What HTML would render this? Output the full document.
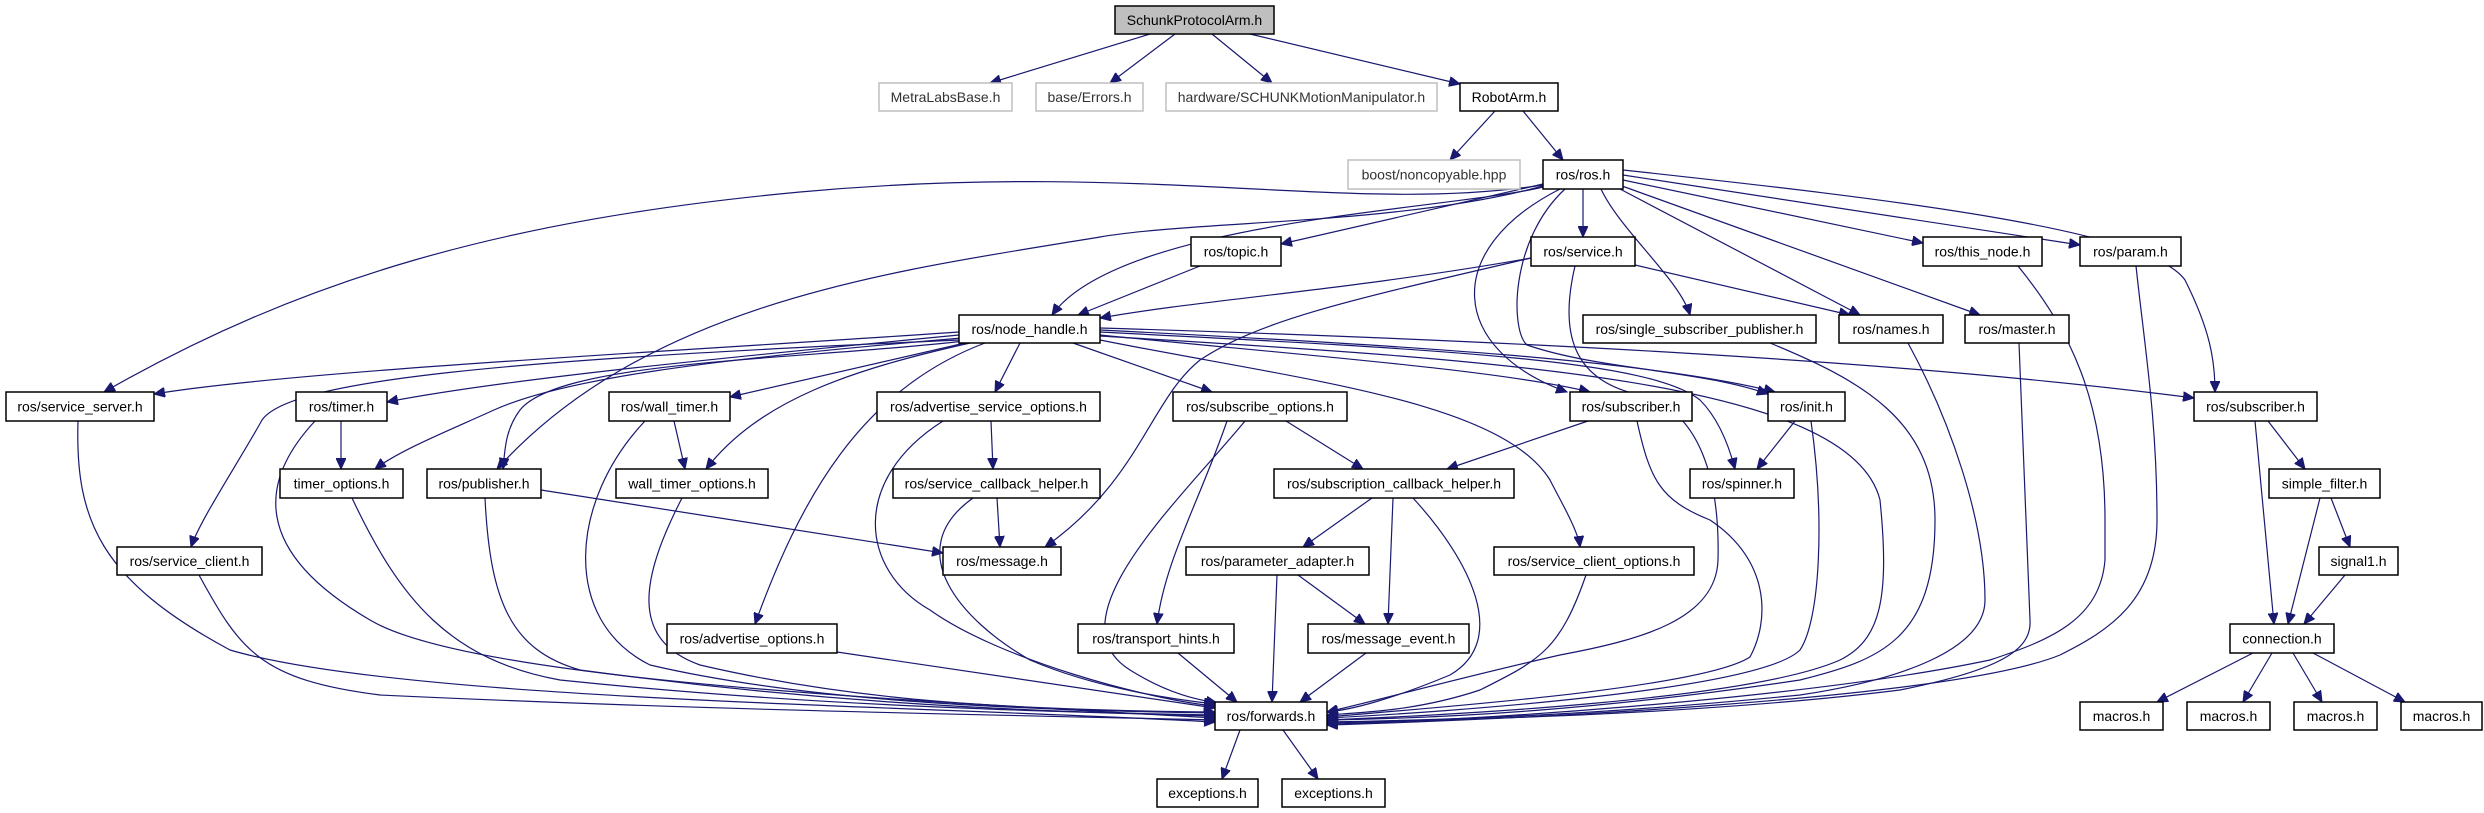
<!DOCTYPE html>
<html><head><meta charset="utf-8"><style>
html,body{margin:0;padding:0;background:#fff}
svg{display:block}
text{font-family:"Liberation Sans",sans-serif;font-size:14px;text-anchor:middle;dominant-baseline:central;fill:#000}
.n{fill:#fff;stroke:#000;stroke-width:1.5}
.g{fill:#fff;stroke:#bfbfbf;stroke-width:1.5}
path{fill:none;stroke:#191970;stroke-width:1.2;marker-end:url(#a)}
</style></head><body>
<svg width="2484" height="813" viewBox="0 0 2484 813" xmlns="http://www.w3.org/2000/svg">
<defs><marker id="a" markerUnits="userSpaceOnUse" markerWidth="12" markerHeight="10" refX="11" refY="5" orient="auto"><path d="M0,0 L11,5 L0,10 z" style="fill:#191970;stroke:#191970;stroke-width:1;marker-end:none"/></marker></defs>

<!-- edges -->
<path d="M1150,34 L990,83"/>
<path d="M1175,34 L1110,83"/>
<path d="M1212,34 L1272,83"/>
<path d="M1250,34 L1460,84"/>
<path d="M1495,111 L1450,160"/>
<path d="M1523,111 L1563,160"/>
<path d="M1543,184 L1281,244"/>
<path d="M1583,189 L1583,237"/>
<path d="M1623,180 L1923,243"/>
<path d="M1623,175 L2080,245"/>
<path d="M1623,170 C1900,200 2150,230 2185,280 C2210,330 2215,360 2215,392"/>
<path d="M1620,189 L1860,315"/>
<path d="M1622,186 L1980,315"/>
<path d="M1601,189 C1620,230 1680,280 1690,315"/>
<path d="M1543,187 C1450,210 1120,220 1052,315"/>
<path d="M1543,185 C1350,215 1150,160 800,192 C500,220 300,280 104,392"/>
<path d="M1543,186 C1400,225 1200,220 1100,237 C900,270 650,300 497,469"/>
<path d="M1560,189 C1440,250 1450,350 1567,392"/>
<path d="M1565,189 C1510,240 1510,330 1527,345 C1600,370 1700,370 1768,394"/>
<path d="M1200,266 L1078,315"/>
<path d="M1531,258 C1350,290 1200,300 1100,318"/>
<path d="M1635,265 L1850,315"/>
<path d="M1531,258 C1350,300 1260,320 1200,360 C1150,400 1140,480 1045,547"/>
<path d="M1575,266 C1560,330 1570,380 1640,395 C1700,410 1720,480 1718,560 C1716,620 1640,640 1560,655 C1450,680 1380,700 1327,712"/>

<path d="M959,332 C700,350 300,370 154,394"/>
<path d="M959,335 C700,360 500,380 387,402"/>
<path d="M962,338 C700,360 560,380 494,410 C450,430 400,450 375,469"/>
<path d="M965,341 C800,360 560,360 520,410 C505,430 505,450 503,469"/>
<path d="M965,343 L730,397"/>
<path d="M970,343 C850,370 760,400 706,469"/>
<path d="M985,343 C860,390 800,500 755,624"/>
<path d="M1020,343 L995,392"/>
<path d="M1073,343 L1212,392"/>
<path d="M1100,335 C1300,355 1500,370 1590,392"/>
<path d="M1100,330 C1400,345 1650,360 1775,392"/>
<path d="M1100,332 C1450,350 1650,360 1700,400 C1720,420 1730,450 1735,469"/>
<path d="M1100,328 C1500,340 1900,360 2194,398"/>
<path d="M960,340 C500,360 290,380 262,420 C240,460 200,520 191,547"/>
<path d="M1100,340 C1300,380 1500,400 1550,480 C1560,500 1578,530 1580,547"/>
<path d="M1100,336 C1500,360 1850,380 1880,500 C1890,600 1880,640 1840,660 C1750,700 1450,715 1327,720"/>

<path d="M78,421 C75,520 100,580 230,650 C400,700 900,705 1215,722"/>
<path d="M199,575 C240,650 260,680 380,695 C700,710 1000,715 1215,720"/>
<path d="M315,421 C260,480 250,550 370,620 C470,680 900,700 1215,718"/>
<path d="M352,498 C400,600 450,660 560,680 C800,705 1000,710 1215,716"/>
<path d="M485,498 C490,600 510,650 580,670 C800,700 1000,712 1215,715"/>
<path d="M645,421 C570,500 560,620 650,665 C800,700 1000,710 1215,713"/>
<path d="M682,498 C640,580 630,640 700,665 C850,700 1000,710 1215,712"/>
<path d="M837,652 L1215,708"/>
<path d="M943,421 C850,480 860,570 930,610 C1000,660 1150,700 1215,706"/>
<path d="M973,498 C900,550 960,620 1030,660 C1100,690 1180,700 1215,704"/>
<path d="M1245,421 C1180,500 1050,620 1130,670 C1170,695 1200,700 1217,703"/>
<path d="M1178,653 L1237,702"/>
<path d="M1277,575 L1272,702"/>
<path d="M1366,653 L1300,702"/>
<path d="M1413,498 C1470,560 1510,640 1450,675 C1390,700 1350,710 1327,712"/>
<path d="M1586,575 C1560,650 1540,660 1480,690 C1420,710 1370,712 1327,715"/>
<path d="M1637,421 C1650,480 1660,500 1710,520 C1770,560 1770,620 1750,657 C1700,690 1400,710 1327,717"/>
<path d="M1811,421 C1825,520 1820,620 1800,650 C1760,690 1450,712 1327,718"/>
<path d="M1770,343 C1860,380 1935,420 1935,520 C1935,640 1880,660 1800,680 C1600,710 1450,718 1327,720"/>
<path d="M1908,343 C1950,420 1985,520 1985,600 C1985,650 1900,680 1800,695 C1600,715 1450,720 1327,722"/>
<path d="M2019,343 L2030,620 C2032,650 2000,670 1900,690 C1700,715 1450,720 1327,723"/>
<path d="M2018,266 C2070,330 2105,400 2105,520 L2105,560 C2100,620 2050,640 1990,660 C1800,700 1450,722 1327,724"/>
<path d="M2136,266 C2145,350 2157,420 2157,520 C2157,600 2110,630 2060,655 C1950,700 1500,720 1327,725"/>

<path d="M1286,421 L1363,469"/>
<path d="M1588,421 L1447,469"/>
<path d="M1227,421 C1200,500 1165,560 1157,624"/>
<path d="M1372,498 L1303,547"/>
<path d="M1393,498 L1388,624"/>
<path d="M1298,575 L1365,624"/>
<path d="M991,421 L993,469"/>
<path d="M997,498 L1000,547"/>
<path d="M541,490 L943,553"/>
<path d="M341,421 L341,469"/>
<path d="M674,421 L685,469"/>
<path d="M1795,421 L1757,469"/>
<path d="M2255,421 L2274,624"/>
<path d="M2268,421 L2305,469"/>
<path d="M2320,498 L2288,624"/>
<path d="M2331,498 L2350,547"/>
<path d="M2345,575 L2304,624"/>
<path d="M2253,653 L2157,702"/>
<path d="M2272,653 L2243,702"/>
<path d="M2293,653 L2322,702"/>
<path d="M2313,653 L2405,702"/>
<path d="M1240,730 L1222,779"/>
<path d="M1283,730 L1318,779"/>

<!-- nodes -->
<rect x="1115" y="6" width="159" height="28" style="fill:#bfbfbf;stroke:#000;stroke-width:1.5"/><text x="1194.5" y="20">SchunkProtocolArm.h</text>
<rect class="g" x="879" y="83" width="133" height="28"/><text x="945.5" y="97" style="fill:#333">MetraLabsBase.h</text>
<rect class="g" x="1036" y="83" width="107" height="28"/><text x="1089.5" y="97" style="fill:#333">base/Errors.h</text>
<rect class="g" x="1166" y="83" width="271" height="28"/><text x="1301.5" y="97" style="fill:#333">hardware/SCHUNKMotionManipulator.h</text>
<rect class="n" x="1460" y="83" width="98" height="28"/><text x="1509" y="97">RobotArm.h</text>
<rect class="g" x="1348" y="160" width="172" height="29"/><text x="1434" y="174.5" style="fill:#333">boost/noncopyable.hpp</text>
<rect class="n" x="1543" y="160" width="80" height="29"/><text x="1583" y="174.5">ros/ros.h</text>

<rect class="n" x="1191" y="237" width="90" height="29"/><text x="1236" y="251.5">ros/topic.h</text>
<rect class="n" x="1531" y="237" width="104" height="29"/><text x="1583" y="251.5">ros/service.h</text>
<rect class="n" x="1923" y="237" width="119" height="29"/><text x="1982.5" y="251.5">ros/this_node.h</text>
<rect class="n" x="2080" y="237" width="101" height="29"/><text x="2130.5" y="251.5">ros/param.h</text>

<rect class="n" x="959" y="315" width="141" height="28"/><text x="1029.5" y="329">ros/node_handle.h</text>
<rect class="n" x="1583" y="315" width="233" height="28"/><text x="1699.5" y="329">ros/single_subscriber_publisher.h</text>
<rect class="n" x="1839" y="315" width="104" height="28"/><text x="1891" y="329">ros/names.h</text>
<rect class="n" x="1965" y="315" width="104" height="28"/><text x="2017" y="329">ros/master.h</text>

<rect class="n" x="6" y="392" width="148" height="29"/><text x="80" y="406.5">ros/service_server.h</text>
<rect class="n" x="296" y="392" width="91" height="29"/><text x="341.5" y="406.5">ros/timer.h</text>
<rect class="n" x="609" y="392" width="121" height="29"/><text x="669.5" y="406.5">ros/wall_timer.h</text>
<rect class="n" x="877" y="392" width="223" height="29"/><text x="988.5" y="406.5">ros/advertise_service_options.h</text>
<rect class="n" x="1173" y="392" width="174" height="29"/><text x="1260" y="406.5">ros/subscribe_options.h</text>
<rect class="n" x="1570" y="392" width="122" height="29"/><text x="1631" y="406.5">ros/subscriber.h</text>
<rect class="n" x="1768" y="392" width="77" height="29"/><text x="1806.5" y="406.5">ros/init.h</text>
<rect class="n" x="2194" y="392" width="123" height="29"/><text x="2255.5" y="406.5">ros/subscriber.h</text>

<rect class="n" x="280" y="469" width="123" height="29"/><text x="341.5" y="483.5">timer_options.h</text>
<rect class="n" x="427" y="469" width="114" height="29"/><text x="484" y="483.5">ros/publisher.h</text>
<rect class="n" x="616" y="469" width="152" height="29"/><text x="692" y="483.5">wall_timer_options.h</text>
<rect class="n" x="893" y="469" width="207" height="29"/><text x="996.5" y="483.5">ros/service_callback_helper.h</text>
<rect class="n" x="1274" y="469" width="240" height="29"/><text x="1394" y="483.5">ros/subscription_callback_helper.h</text>
<rect class="n" x="1690" y="469" width="104" height="29"/><text x="1742" y="483.5">ros/spinner.h</text>
<rect class="n" x="2269" y="469" width="111" height="29"/><text x="2324.5" y="483.5">simple_filter.h</text>

<rect class="n" x="117" y="547" width="145" height="28"/><text x="189.5" y="561">ros/service_client.h</text>
<rect class="n" x="943" y="547" width="118" height="28"/><text x="1002" y="561">ros/message.h</text>
<rect class="n" x="1186" y="547" width="183" height="28"/><text x="1277.5" y="561">ros/parameter_adapter.h</text>
<rect class="n" x="1494" y="547" width="200" height="28"/><text x="1594" y="561">ros/service_client_options.h</text>
<rect class="n" x="2319" y="547" width="79" height="28"/><text x="2358.5" y="561">signal1.h</text>

<rect class="n" x="667" y="624" width="170" height="29"/><text x="752" y="638.5">ros/advertise_options.h</text>
<rect class="n" x="1078" y="624" width="156" height="29"/><text x="1156" y="638.5">ros/transport_hints.h</text>
<rect class="n" x="1308" y="624" width="161" height="29"/><text x="1388.5" y="638.5">ros/message_event.h</text>
<rect class="n" x="2230" y="624" width="104" height="29"/><text x="2282" y="638.5">connection.h</text>

<rect class="n" x="1215" y="702" width="112" height="28"/><text x="1271" y="716">ros/forwards.h</text>
<rect class="n" x="2080" y="702" width="83" height="28"/><text x="2121.5" y="716">macros.h</text>
<rect class="n" x="2187" y="702" width="83" height="28"/><text x="2228.5" y="716">macros.h</text>
<rect class="n" x="2294" y="702" width="83" height="28"/><text x="2335.5" y="716">macros.h</text>
<rect class="n" x="2401" y="702" width="81" height="28"/><text x="2441.5" y="716">macros.h</text>

<rect class="n" x="1157" y="779" width="101" height="28"/><text x="1207.5" y="793">exceptions.h</text>
<rect class="n" x="1282" y="779" width="103" height="28"/><text x="1333.5" y="793">exceptions.h</text>
</svg>
</body></html>
